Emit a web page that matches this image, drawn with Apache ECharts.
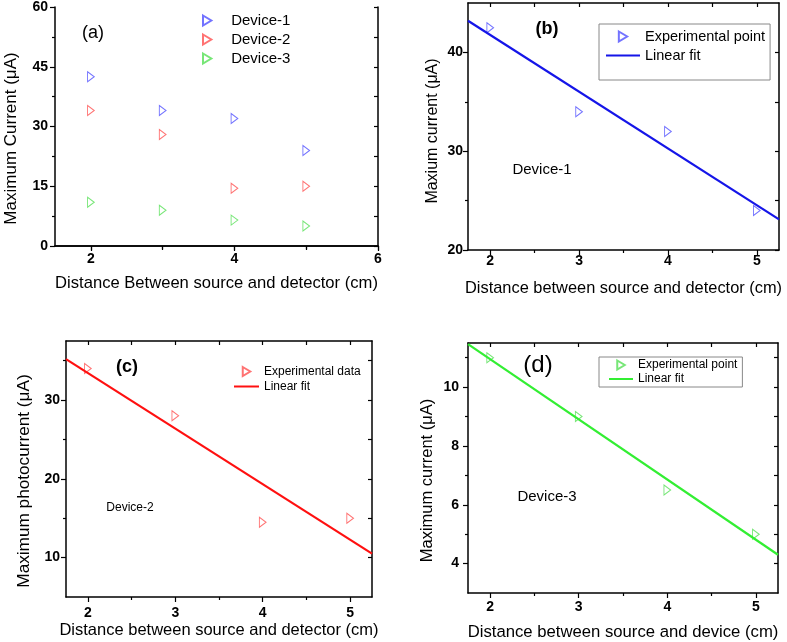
<!DOCTYPE html>
<html><head><meta charset="utf-8">
<script src="https://cdn.jsdelivr.net/npm/echarts@6/dist/echarts.min.js"></script>
<style>html,body{margin:0;padding:0;background:#fff}#c{width:787px;height:642px}</style>
</head><body><div id="c"></div>
<script>
// ---- data ----
const distance = [2, 3, 4, 5];
const device1 = [42.5, 34, 32, 24];
const device2 = [34, 28, 14.5, 15];
const device3 = [11, 9, 6.5, 5];
// linear fit end points
const fitX = [1.75, 5.25];
const fit1 = [43.2, 23.1];
const fit2 = [35.2, 10.5];
const fit3 = [11.46, 4.3];
// tick labels
const ticksAx = [2, 4, 6], minorAx = [3, 5];
const ticksAy = [0, 15, 30, 45, 60], minorAy = [7.5, 22.5, 37.5, 52.5];
const ticksX = [2, 3, 4, 5], minorX = [2.5, 3.5, 4.5];
const ticksBy = [20, 30, 40], minorBy = [25, 35];
const ticksCy = [10, 20, 30], minorCy = [15, 25, 35];
const ticksDy = [4, 6, 8, 10], minorDy = [5, 7, 9, 11];

const FONT = "'Liberation Sans', Arial, sans-serif";
const tri = 'path://M0,0L10,6L0,12Z';
const C1 = '#5050ff', C2 = '#ff5050', C3 = '#55e055';
const L1 = '#1515e8', L2 = '#ff1010', L3 = '#33ee33';

const grids = [], xAxes = [], yAxes = [];
function addGrid(g, xr, yr, xMaj, xMin, yMaj, yMin, xName, yName, xGap, yGap, xMargin, yMargin, xSize, ySize, yShift) {
  const gi = grids.length;
  grids.push(g);
  const line = {show: true, lineStyle: {color: '#000', width: 1.5}};
  const base = (r) => ({type: 'value', gridIndex: gi, min: r[0], max: r[1], splitLine: {show: false}});
  const xi = xAxes.length;
  xAxes.push(Object.assign(base(xr), {position: 'bottom', axisLine: line,
    axisTick: {show: true, inside: false, length: 5, customValues: xMaj, lineStyle: {color: '#000', width: 1.2}},
    axisLabel: {show: true, customValues: xMaj, margin: xMargin, fontFamily: FONT, fontWeight: 'bold', fontSize: 14, color: '#000'},
    name: xName, nameLocation: 'middle', nameGap: xGap, nameTextStyle: {fontFamily: FONT, fontSize: xSize, color: '#000'}}));
  xAxes.push(Object.assign(base(xr), {position: 'bottom', axisLine: {show: false},
    axisTick: {show: true, inside: false, length: 3, customValues: xMin, lineStyle: {color: '#000', width: 1.2}},
    axisLabel: {show: false}}));
  xAxes.push(Object.assign(base(xr), {position: 'top', axisLine: line,
    axisTick: {show: true, inside: true, length: 4, customValues: xMaj.concat(xMin), lineStyle: {color: '#000', width: 1.2}},
    axisLabel: {show: false}}));
  const yi = yAxes.length;
  yAxes.push(Object.assign(base(yr), {position: 'left', axisLine: line,
    axisTick: {show: true, inside: false, length: 5, customValues: yMaj, lineStyle: {color: '#000', width: 1.2}},
    axisLabel: {show: true, customValues: yMaj, margin: yMargin, fontFamily: FONT, fontWeight: 'bold', fontSize: 14, color: '#000'},
    name: yName, nameLocation: 'middle', nameGap: yGap,
    nameTextStyle: {fontFamily: FONT, fontSize: ySize, color: '#000', padding: [0, yShift, 0, 0]}}));
  yAxes.push(Object.assign(base(yr), {position: 'left', axisLine: {show: false},
    axisTick: {show: true, inside: false, length: 3, customValues: yMin, lineStyle: {color: '#000', width: 1.2}},
    axisLabel: {show: false}}));
  yAxes.push(Object.assign(base(yr), {position: 'right', axisLine: line,
    axisTick: {show: true, inside: true, length: 4, customValues: yMaj.concat(yMin), lineStyle: {color: '#000', width: 1.2}},
    axisLabel: {show: false}}));
  return {xi, yi};
}

const A = addGrid({left: 55, top: 7, width: 323, height: 239}, [1.5, 6], [0, 60], ticksAx, minorAx, ticksAy, minorAy,
  'Distance Between source and detector (cm)', 'Maximum Current (\u03bcA)', 29, 35, 6, 7, 16.6, 17, 24);
const B = addGrid({left: 468, top: 3, width: 311, height: 247}, [1.75, 5.25], [20, 45], ticksX, minorX, ticksBy, minorBy,
  'Distance between source and detector (cm)', 'Maxium current (\u03bcA)', 30, 27, 4, 5, 16.4, 16, 9);
const Cc = addGrid({left: 66, top: 341, width: 306, height: 256}, [1.75, 5.25], [5, 37.5], ticksX, minorX, ticksCy, minorCy,
  'Distance between source and detector (cm)', 'Maximum photocurrent (\u03bcA)', 25, 33, 9, 6, 16.5, 17.2, 24);
const D = addGrid({left: 468, top: 343, width: 310, height: 251}, [1.75, 5.25], [3, 11.5], ticksX, minorX, ticksDy, minorDy,
  'Distance between source and device (cm)', 'Maximum current (\u03bcA)', 31, 32, 7, 9, 16.7, 16.5, 25);

const pairs = (xs, ys) => xs.map((x, i) => [x, ys[i]]);
function scatter(name, ax, ys, color) {
  return {type: 'scatter', name, xAxisIndex: ax.xi, yAxisIndex: ax.yi, data: pairs(distance, ys),
    symbol: tri, symbolSize: [8, 10], symbolKeepAspect: true,
    itemStyle: {color: 'rgba(0,0,0,0)', borderColor: color, borderWidth: 1}};
}
function fit(name, ax, ys, color) {
  return {type: 'line', name, xAxisIndex: ax.xi, yAxisIndex: ax.yi, data: pairs(fitX, ys),
    symbol: 'none', showSymbol: false, lineStyle: {color, width: 2.2}, itemStyle: {color}};
}
const series = [
  scatter('Device-1', A, device1, C1), scatter('Device-2', A, device2, C2), scatter('Device-3', A, device3, C3),
  scatter('Experimental point ', B, device1, C1), fit('Linear fit ', B, fit1, L1),
  scatter('Experimental data', Cc, device2, C2), fit('Linear fit  ', Cc, fit2, L2),
  scatter('Experimental point   ', D, device3, C3), fit('Linear fit   ', D, fit3, L3)
];

const trimName = n => n.trim();
const lineItem = n => ({name: n, itemStyle: {opacity: 0}});
const legends = [
  {data: ['Device-1', 'Device-2', 'Device-3'], left: 202, top: 13, padding: 0, orient: 'vertical', itemWidth: 38, itemHeight: 10, itemGap: 4,
   textStyle: {fontFamily: FONT, fontSize: 15, lineHeight: 14, color: '#000'}},
  {data: ['Experimental point ', lineItem('Linear fit ')], left: 599, top: 24, orient: 'vertical', itemWidth: 34, itemHeight: 10, itemGap: 4,
   padding: [5, 5, 17, 6], borderColor: '#888', borderWidth: 1,
   textStyle: {fontFamily: FONT, fontSize: 14.5, lineHeight: 12, color: '#000'}},
  {data: ['Experimental data', lineItem('Linear fit  ')], left: 233, top: 365, padding: 0, orient: 'vertical', itemWidth: 25, itemHeight: 9, itemGap: 2,
   textStyle: {fontFamily: FONT, fontSize: 12, lineHeight: 13, color: '#000'}},
  {data: ['Experimental point   ', lineItem('Linear fit   ')], left: 599, top: 357, orient: 'vertical', itemWidth: 24, itemHeight: 9, itemGap: 2,
   padding: [2, 5, 2, 9], borderColor: '#888', borderWidth: 1,
   textStyle: {fontFamily: FONT, fontSize: 12, lineHeight: 12, color: '#000'}}
].map(l => Object.assign({formatter: trimName, selectedMode: false}, l));

const txt = (x, y, t, size, weight) => ({type: 'text', x, y, style: {text: t, fontFamily: FONT, fontSize: size, fontWeight: weight || 'normal', fill: '#000', align: 'center', verticalAlign: 'middle'}});
const graphic = [
  txt(93, 33, '(a)', 18), txt(547, 29, '(b)', 18, 'bold'), txt(542, 170, 'Device-1', 15),
  txt(127, 367, '(c)', 18, 'bold'), txt(130, 508, 'Device-2', 12),
  txt(538, 365, '(d)', 24), txt(547, 497, 'Device-3', 15)
];

const chart = echarts.init(document.getElementById('c'), null, {renderer: 'canvas'});
chart.setOption({animation: false, grid: grids, xAxis: xAxes, yAxis: yAxes, series, legend: legends, graphic});
</script></body></html>
